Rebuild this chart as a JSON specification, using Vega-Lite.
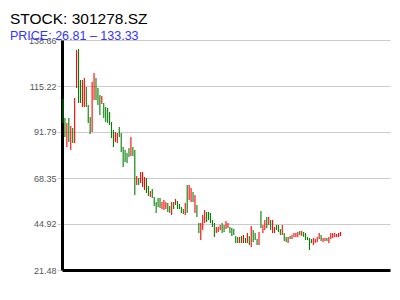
{
  "$schema": "https://vega.github.io/schema/vega-lite/v6.json",
  "width": 328,
  "height": 230,
  "autosize": "none",
  "padding": {"left": 62, "top": 40, "right": 10, "bottom": 30},
  "background": "white",
  "title": {
    "text": "STOCK: 301278.SZ",
    "subtitle": "PRICE: 26.81 – 133.33",
    "anchor": "start",
    "frame": "group",
    "dx": -52,
    "offset": -6,
    "font": "Liberation Sans",
    "fontSize": 15.5,
    "fontWeight": "normal",
    "color": "#000000",
    "subtitleFont": "Liberation Sans",
    "subtitleFontSize": 12.5,
    "subtitleColor": "#3333ff",
    "subtitlePadding": 2
  },
  "config": {"view": {"stroke": null}},
  "data": {
    "values": [
      {"day":1,"open":108.61,"close":96.38},
      {"day":2,"open":98.93,"close":89.25},
      {"day":3,"open":84.15,"close":96.38},
      {"day":4,"open":98.93,"close":86.70},
      {"day":5,"open":82.62,"close":94.85},
      {"day":6,"open":93.83,"close":86.19},
      {"day":7,"open":86.19,"close":109.12},
      {"day":8,"open":114.21,"close":133.58},
      {"day":9,"open":134.08,"close":106.57},
      {"day":10,"open":118.29,"close":106.57},
      {"day":11,"open":104.53,"close":118.29},
      {"day":12,"open":104.53,"close":119.31},
      {"day":13,"open":114.72,"close":104.53},
      {"day":14,"open":105.55,"close":96.38},
      {"day":15,"open":99.44,"close":90.78},
      {"day":16,"open":91.80,"close":117.27},
      {"day":17,"open":108.10,"close":121.86},
      {"day":18,"open":119.31,"close":108.10},
      {"day":19,"open":114.21,"close":105.55},
      {"day":20,"open":110.65,"close":100.46},
      {"day":21,"open":106.06,"close":110.14},
      {"day":22,"open":106.57,"close":98.93},
      {"day":23,"open":104.53,"close":96.89},
      {"day":24,"open":104.02,"close":96.38},
      {"day":25,"open":101.99,"close":95.36},
      {"day":26,"open":96.89,"close":88.74},
      {"day":27,"open":92.81,"close":84.15},
      {"day":28,"open":86.70,"close":91.80},
      {"day":29,"open":86.19,"close":91.29},
      {"day":30,"open":94.34,"close":89.25},
      {"day":31,"open":91.29,"close":81.61},
      {"day":32,"open":84.15,"close":73.96},
      {"day":33,"open":82.62,"close":76.51},
      {"day":34,"open":81.10,"close":76.00},
      {"day":35,"open":83.64,"close":79.06},
      {"day":36,"open":79.57,"close":89.25},
      {"day":37,"open":84.15,"close":79.57},
      {"day":38,"open":82.62,"close":59.70},
      {"day":39,"open":64.79,"close":69.38},
      {"day":40,"open":68.36,"close":64.79},
      {"day":41,"open":65.81,"close":71.42},
      {"day":42,"open":63.77,"close":71.42},
      {"day":43,"open":62.25,"close":68.87},
      {"day":44,"open":68.36,"close":60.72},
      {"day":45,"open":64.28,"close":59.19},
      {"day":46,"open":58.68,"close":61.74},
      {"day":47,"open":62.76,"close":58.17},
      {"day":48,"open":58.68,"close":54.09},
      {"day":49,"open":56.13,"close":50.53},
      {"day":50,"open":58.17,"close":53.58},
      {"day":51,"open":58.17,"close":53.05},
      {"day":52,"open":52.57,"close":56.13},
      {"day":53,"open":52.06,"close":57.15},
      {"day":54,"open":52.57,"close":56.13},
      {"day":55,"open":55.62,"close":51.04},
      {"day":56,"open":54.09,"close":50.53},
      {"day":57,"open":49.51,"close":56.13},
      {"day":58,"open":56.13,"close":52.57},
      {"day":59,"open":54.60,"close":57.66},
      {"day":60,"open":56.64,"close":52.57},
      {"day":61,"open":55.11,"close":52.57},
      {"day":62,"open":53.58,"close":50.53},
      {"day":63,"open":52.57,"close":50.02},
      {"day":64,"open":49.51,"close":55.62},
      {"day":65,"open":64.79,"close":50.53},
      {"day":66,"open":57.15,"close":64.79},
      {"day":67,"open":56.13,"close":63.26},
      {"day":68,"open":61.23,"close":56.13},
      {"day":69,"open":50.53,"close":59.70},
      {"day":70,"open":54.60,"close":48.49},
      {"day":71,"open":45.43,"close":40.34},
      {"day":72,"open":36.77,"close":45.43},
      {"day":73,"open":41.87,"close":49.51},
      {"day":74,"open":45.43,"close":52.06},
      {"day":75,"open":51.04,"close":45.94},
      {"day":76,"open":51.04,"close":46.96},
      {"day":77,"open":50.53,"close":45.43},
      {"day":78,"open":46.96,"close":43.39},
      {"day":79,"open":45.43,"close":38.30},
      {"day":80,"open":40.34,"close":43.39},
      {"day":81,"open":40.85,"close":43.39},
      {"day":82,"open":41.87,"close":44.41},
      {"day":83,"open":45.43,"close":40.34},
      {"day":84,"open":44.41,"close":40.85},
      {"day":85,"open":42.38,"close":46.45},
      {"day":86,"open":42.88,"close":45.43},
      {"day":87,"open":43.39,"close":40.34},
      {"day":88,"open":42.88,"close":38.81},
      {"day":89,"open":42.38,"close":39.32},
      {"day":90,"open":38.81,"close":35.24},
      {"day":91,"open":38.30,"close":35.24},
      {"day":92,"open":35.24,"close":38.30},
      {"day":93,"open":38.81,"close":35.24},
      {"day":94,"open":35.24,"close":39.32},
      {"day":95,"open":37.79,"close":35.24},
      {"day":96,"open":35.24,"close":40.34},
      {"day":97,"open":38.81,"close":34.23},
      {"day":98,"open":33.21,"close":43.90},
      {"day":99,"open":41.87,"close":35.75},
      {"day":100,"open":40.34,"close":36.77},
      {"day":101,"open":37.28,"close":34.23},
      {"day":102,"open":34.23,"close":40.85},
      {"day":103,"open":51.55,"close":42.88},
      {"day":104,"open":40.34,"close":44.41},
      {"day":105,"open":41.87,"close":46.96},
      {"day":106,"open":48.49,"close":42.88},
      {"day":107,"open":44.41,"close":48.49},
      {"day":108,"open":46.96,"close":41.87},
      {"day":109,"open":40.34,"close":46.96},
      {"day":110,"open":40.34,"close":43.39},
      {"day":111,"open":44.41,"close":41.87},
      {"day":112,"open":44.41,"close":40.85},
      {"day":113,"open":42.38,"close":39.32},
      {"day":114,"open":39.32,"close":44.41},
      {"day":115,"open":40.34,"close":36.26},
      {"day":116,"open":38.30,"close":35.75},
      {"day":117,"open":35.24,"close":38.30},
      {"day":118,"open":38.81,"close":37.28},
      {"day":119,"open":37.28,"close":39.32},
      {"day":120,"open":38.30,"close":40.34},
      {"day":121,"open":38.30,"close":40.34},
      {"day":122,"open":38.30,"close":40.85},
      {"day":123,"open":41.36,"close":39.32},
      {"day":124,"open":38.81,"close":41.36},
      {"day":125,"open":40.85,"close":38.30},
      {"day":126,"open":40.34,"close":36.77},
      {"day":127,"open":38.30,"close":36.77},
      {"day":128,"open":37.79,"close":31.68},
      {"day":129,"open":37.28,"close":35.24},
      {"day":130,"open":34.23,"close":37.79},
      {"day":131,"open":35.24,"close":37.28},
      {"day":132,"open":35.75,"close":38.30},
      {"day":133,"open":37.28,"close":40.34},
      {"day":134,"open":39.32,"close":36.26},
      {"day":135,"open":35.75,"close":37.79},
      {"day":136,"open":36.26,"close":37.79},
      {"day":137,"open":37.79,"close":36.26},
      {"day":138,"open":35.24,"close":38.30},
      {"day":139,"open":37.28,"close":40.34},
      {"day":140,"open":37.79,"close":40.34},
      {"day":141,"open":38.30,"close":40.34},
      {"day":142,"open":38.30,"close":39.83},
      {"day":143,"open":38.30,"close":40.34},
      {"day":144,"open":38.81,"close":40.85}
    ]
  },
  "mark": {"type": "rule", "strokeWidth": 1.1},
  "encoding": {
    "x": {
      "field": "day",
      "type": "quantitative",
      "scale": {"domain": [0.485, 169.5], "nice": false, "zero": false},
      "axis": {
        "title": null,
        "labels": false,
        "ticks": false,
        "grid": false,
        "domainColor": "#000000",
        "domainWidth": 3
      }
    },
    "y": {
      "field": "open",
      "type": "quantitative",
      "scale": {"domain": [21.48, 138.66], "nice": false, "zero": false},
      "axis": {
        "title": null,
        "values": [21.48, 44.92, 68.35, 91.79, 115.22, 138.66],
        "format": ".2f",
        "labelFont": "Liberation Sans",
        "labelFontSize": 9,
        "labelColor": "#555555",
        "labelPadding": 1,
        "tickColor": "#cccccc",
        "tickSize": 5,
        "gridColor": "#cccccc",
        "gridWidth": 1,
        "domainColor": "#000000",
        "domainWidth": 3
      }
    },
    "y2": {"field": "close"},
    "color": {
      "condition": {"test": "datum.close >= datum.open", "value": "#ff0000"},
      "value": "#008000"
    }
  }
}
